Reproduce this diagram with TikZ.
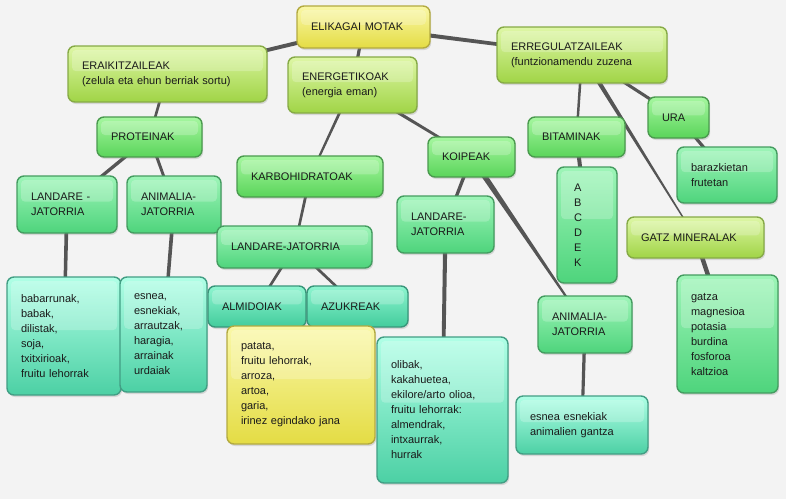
\documentclass[tikz,border=0pt]{standalone}
\usepackage{fontspec}
\setmainfont{Liberation Sans}
\usetikzlibrary{calc,shadows,backgrounds}
\definecolor{bgc}{HTML}{F3F3F3}
\definecolor{txt}{HTML}{1A1A1A}
\definecolor{connc}{HTML}{555555}
\definecolor{yT}{HTML}{FAF8A8}\definecolor{yB}{HTML}{E4DC44}\definecolor{yD}{HTML}{B3AA40}
\definecolor{ygT}{HTML}{DEF7A6}\definecolor{ygB}{HTML}{A0D446}\definecolor{ygD}{HTML}{86AA46}
\definecolor{gT}{HTML}{A6F7A0}\definecolor{gB}{HTML}{5AD45A}\definecolor{gD}{HTML}{4A9A4E}
\definecolor{gtT}{HTML}{9EF5B8}\definecolor{gtB}{HTML}{4ED47C}\definecolor{gtD}{HTML}{449C60}
\definecolor{tT}{HTML}{8FF5D0}\definecolor{tB}{HTML}{42CC9C}\definecolor{tD}{HTML}{38967A}
\definecolor{aT}{HTML}{B0FFE6}\definecolor{aB}{HTML}{4CD0A4}\definecolor{aD}{HTML}{429E84}
\newcommand\taperline[4]{\fill[connc] ($(#1.center)!#3pt!90:(#2.center)$) -- ($(#2.center)!#4pt!-90:(#1.center)$) -- ($(#2.center)!#4pt!90:(#1.center)$) -- ($(#1.center)!#3pt!-90:(#2.center)$) -- cycle;}
\begin{document}
\begin{tikzpicture}[x=1pt,y=-1pt,
  box/.style={rectangle, rounded corners=7pt, line width=1.4pt, inner xsep=14pt, inner ysep=2pt,
    align=left, font=\fontsize{11}{15}\selectfont, text=txt,
    drop shadow={opacity=0.25, shadow xshift=1.2pt, shadow yshift=-2pt},
    path picture={\fill[white,opacity=0.22,rounded corners=4pt]
      ([xshift=4pt,yshift=-4pt]path picture bounding box.north west) rectangle
      ([xshift=-4pt]$(path picture bounding box.east)!0.1!(path picture bounding box.north east)$);}},
  bx/.code 2 args={\pgfmathsetmacro\bxtw{#1-28}\edef\bxtmp{\noexpand\tikzset{minimum width=#1pt,minimum height=#2pt,text width=\bxtw pt}}\bxtmp},
  cy/.style={box, top color=yT, bottom color=yB, draw=yD},
  cyg/.style={box, top color=ygT, bottom color=ygB, draw=ygD},
  cg/.style={box, top color=gT, bottom color=gB, draw=gD},
  cgt/.style={box, top color=gtT, bottom color=gtB, draw=gtD},
  ct/.style={box, top color=tT, bottom color=tB, draw=tD},
  ca/.style={box, top color=aT, bottom color=aB, draw=aD}]
\useasboundingbox (0,0) rectangle (786,499);
% nodes
\node[cy, bx={133}{42}] (elik) at (363.5,27) {ELIKAGAI MOTAK};
\node[cyg, bx={199}{56}] (eraik) at (167.5,74) {ERAIKITZAILEAK\\(zelula eta ehun berriak sortu)};
\node[cyg, bx={129}{56}] (energ) at (352.5,85) {ENERGETIKOAK\\(energia eman)};
\node[cyg, bx={170}{56}] (erreg) at (582,55) {ERREGULATZAILEAK\\(funtzionamendu zuzena};
\node[cg, bx={105}{40}] (prot) at (149.5,137) {PROTEINAK};
\node[cg, bx={97}{40}] (bita) at (576.5,137) {BITAMINAK};
\node[cg, bx={61}{41}] (ura) at (678.5,117.5) {URA};
\node[cg, bx={87}{40}] (koip) at (471.5,157) {KOIPEAK};
\node[cgt, bx={100}{56}] (baraz) at (727,175) {barazkietan\\frutetan};
\node[cg, bx={146}{41}] (karb) at (310,176.5) {KARBOHIDRATOAK};
\node[cgt, bx={100}{57}] (landl) at (67,204.5) {LANDARE -\\JATORRIA};
\node[cgt, bx={94}{57}] (animl) at (174,204.5) {ANIMALIA-\\JATORRIA};
\node[cgt, bx={155}{42}] (landm) at (294.5,247) {LANDARE-JATORRIA};
\node[ct, bx={98}{41}] (almi) at (257,306.5) {ALMIDOIAK};
\node[ct, bx={101}{41}] (azuk) at (357.5,306.5) {AZUKREAK};
\node[cgt, bx={97}{57}] (landk) at (445.5,224.5) {LANDARE-\\JATORRIA};
\node[cgt, bx={60}{116}, inner xsep=17pt, text width=26pt] (abc) at (587,225) {A\\B\\C\\D\\E\\K};
\node[cyg, bx={137}{41}] (gatz) at (695.5,237.5) {GATZ MINERALAK};
\node[cgt, bx={94}{57}] (animr) at (585,324.5) {ANIMALIA-\\JATORRIA};
\node[ca, bx={114}{118}] (babar) at (64,336) {babarrunak,\\babak,\\dilistak,\\soja,\\txitxirioak,\\fruitu lehorrak};
\node[ca, bx={87}{115}] (esnea) at (163.5,334.5) {esnea,\\esnekiak,\\arrautzak,\\haragia,\\arrainak\\urdaiak};
\node[cy, bx={148}{118}] (patata) at (301,385) {patata,\\fruitu lehorrak,\\arroza,\\artoa,\\garia,\\irinez egindako jana};
\node[ca, bx={131}{146}] (olib) at (442.5,410) {olibak,\\kakahuetea,\\ekilore/arto olioa,\\fruitu lehorrak:\\almendrak,\\intxaurrak,\\hurrak};
\node[ca, bx={132}{58}] (esneae) at (582,425) {esnea esnekiak\\animalien gantza};
\node[cgt, bx={101}{118}] (gatza) at (727.5,334) {gatza\\magnesioa\\potasia\\burdina\\fosforoa\\kaltzioa};
% connectors
\begin{pgfonlayer}{background}
\fill[bgc] (0,0) rectangle (786,499);
\taperline{elik}{eraik}{2.2}{1.6}
\taperline{elik}{energ}{1.6}{1.6}
\taperline{elik}{erreg}{2.2}{1.6}
\taperline{eraik}{prot}{1.5}{1.2}
\taperline{energ}{karb}{1.5}{1}
\taperline{energ}{koip}{1.8}{1.2}
\taperline{erreg}{bita}{1.3}{1.2}
\taperline{erreg}{gatz}{2.4}{0.5}
\taperline{erreg}{ura}{1.6}{1.5}
\taperline{ura}{baraz}{1.6}{1.6}
\taperline{prot}{landl}{1.8}{1.5}
\taperline{prot}{animl}{1.6}{1.3}
\taperline{landl}{babar}{1.9}{1.6}
\taperline{animl}{esnea}{1.9}{1.6}
\taperline{karb}{landm}{1.5}{1.2}
\taperline{landm}{almi}{1.5}{1.2}
\taperline{landm}{azuk}{1.5}{1.2}
\taperline{koip}{landk}{1.8}{1.5}
\taperline{koip}{animr}{3}{0.7}
\taperline{landk}{olib}{2.1}{1.8}
\taperline{bita}{abc}{2}{2}
\taperline{gatz}{gatza}{2.3}{2}
\taperline{animr}{esneae}{1.7}{1.5}
\end{pgfonlayer}
\end{tikzpicture}
\end{document}
